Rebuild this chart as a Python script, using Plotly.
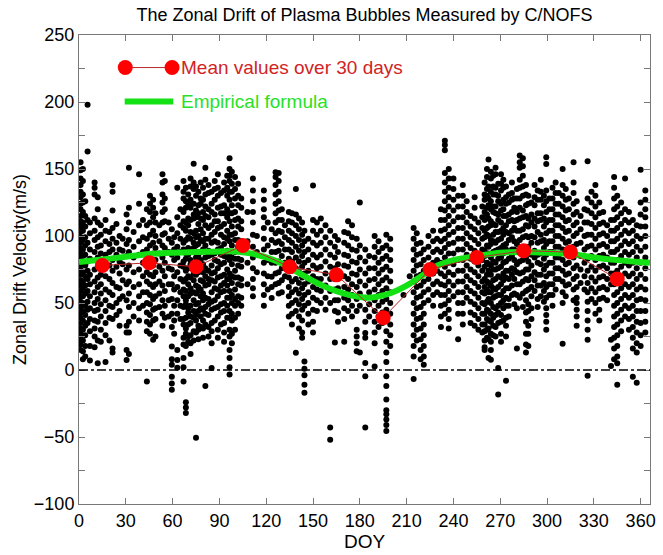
import plotly.graph_objects as go

# ---------------- data ----------------
title_text = "The Zonal Drift of Plasma Bubbles Measured by C/NOFS"

# 30-day mean values
mean_doy = [15, 45, 75, 105, 135, 165, 195, 225, 255, 285, 315, 345]
mean_vel = [78, 80, 77, 93, 77, 71, 39, 75, 84, 89, 88, 68]

# empirical formula curve
emp_doy = [0, 15, 30, 45, 60, 75, 90, 100, 110, 120, 130, 140, 150, 160, 170, 180, 185,
           190, 200, 210, 220, 230, 240, 255, 270, 285, 300, 315, 330, 345, 366]
emp_vel = [80.5, 82.5, 84.5, 86.5, 87.5, 88, 88.5, 88.5, 87, 84, 79.5, 73, 66.5, 61, 57, 54.5, 54,
           54.5, 57.5, 63, 70.5, 78, 82, 85, 87.5, 88, 87.5, 86.5, 84, 82, 80]

# individual bubble drift measurements, grouped by day (DOY, velocities)
streak_doy = [
    1, 2.5, 4, 5.5, 7, 10, 12, 14, 17, 19.5, 21.5, 24, 26, 28, 30.5, 32, 35, 38.5, 41, 43.5,
    45.5, 47.5, 49, 51.5, 53.5, 55, 57.5, 59.5, 61, 63, 65,
    67, 68.5, 70, 71.5, 73.5, 75, 76.5, 78, 79.5, 81, 83, 85, 87, 89, 91, 93, 95, 96.5, 98,
    100, 102, 104,
    108, 111.5, 114, 118.5, 121, 123.5, 126, 128, 130, 132, 134.5, 136.5, 139, 141, 143, 144.5,
    147, 150, 152.5, 155, 158, 161, 164, 166, 170, 172.5, 175, 178, 180, 183.5, 186, 189.5,
    192, 194.5, 197, 199.5, 208, 212,
    214.5, 216.5, 219, 221, 224, 227, 229.5, 232, 234.5, 237, 240, 243, 246, 248.5, 251, 253.6,
    256, 258.5,
    260, 261.5, 262.5, 264, 265.5, 267, 268.7, 270.5, 272, 273.7, 275.5, 277.5, 279, 280.7,
    282.5, 284.5, 286.5, 288, 290, 292, 294, 296, 298, 299.5,
    301.5, 303.5, 305.5, 307.5, 310, 312, 314, 317, 319, 321.5, 324, 326, 328.5, 331, 333.5,
    336, 338.5, 341, 343, 345, 347.5, 350, 352.5, 355, 357.5, 360, 363,
]
streak_vel = [
    [155, 149, 143, 138, 133, 129, 124, 120, 115, 111, 107, 103, 99, 95, 91, 87, 83, 79, 75, 71, 67, 63, 59, 55, 51, 47, 43, 39, 35, 31, 27, 23, 19, 15],
    [150, 141, 131, 125, 118, 110, 104, 97, 90, 85, 79, 73, 66, 61, 55, 50, 44, 37, 30, 22, 14, 8],
    [126, 115, 107, 99, 93, 86, 78, 70, 63, 57, 48, 41, 33, 26, 18, 10],
    [198, 163, 112, 95, 81, 74, 68, 59, 51, 45, 35],
    [110, 102, 90, 83, 71, 64, 55, 46, 38, 29, 18, 7],
    [140, 136, 131, 113, 104, 97, 88, 75, 66, 58, 50, 44, 37, 31, 25, 17],
    [129, 120, 110, 99, 92, 84, 76, 69, 62, 53, 45, 36, 22, 5],
    [108, 101, 93, 87, 80, 71, 64, 57, 49, 40, 30, 21],
    [112, 104, 96, 86, 79, 70, 60, 52, 44, 35, 26, 6],
    [103, 94, 88, 78, 68, 58, 48, 39, 22],
    [138, 133, 119, 106, 98, 90, 82, 74, 65, 56, 47, 38, 16, 13],
    [109, 95, 86, 77, 62, 50, 41],
    [100, 90, 81, 72, 61, 53, 44, 33],
    [98, 89, 79, 67, 55],
    [116, 105, 94, 85, 75, 64, 52, 33, 28, 15, 7.5],
    [151, 121, 110, 97, 88, 78, 66, 57, 47, 36, 28, 12],
    [103, 92, 84, 73, 62, 50, 40],
    [146, 124, 108, 96, 86, 75, 64, 55, 46, 37],
    [112, 99, 88, 80, 70, 58, 48],
    [120, 108, 98, 90, 80, 73, 66, 58, 50, 43, 36, 29, -8.5],
    [130, 124, 118, 110, 101, 93, 86, 79, 71, 64, 56, 49, 41, 34, 27],
    [127, 121, 114, 104, 95, 87, 78, 70, 62, 53, 45, 37, 22.5],
    [117, 110, 100, 91, 82, 73, 64, 55, 46, 38, 25],
    [108, 96, 87, 77, 66, 57, 47],
    [146, 140, 131, 125, 118, 110, 101, 93, 84, 74, 63, 52, 42, 33],
    [141, 128, 120, 111, 102, 91, 80, 70, 59, 48, 39],
    [110, 98, 88, 76, 64, 52, 40],
    [105, 95, 86, 75, 64, 53, 42, 32, 17.5, 8, 4, -5, -10, -14.7],
    [99, 90, 82, 70, 60, 48, 37, 27],
    [136, 114, 102, 92, 84, 73, 62, 52, 42, 15, 7.5, 1.7],
    [120, 108, 98, 88, 78, 68, 58, 48, 38],
    [141, 133, 128, 118, 111, 106, 95, 90, 81, 77, 66, 60, 55, 47, 38, 34, 24, 19, 9, 2, -8.5],
    [136, 126, 121, 110, 104, 97, 87, 83, 74, 68, 59, 52, 49, 39, 31, 27, 18, -24, -28, -32],
    [131, 124, 113, 108, 99, 91, 86, 76, 70, 64, 55, 46, 43, 34, 25, 21],
    [143, 137, 127, 121, 112, 103, 98, 89, 82, 79, 69, 61, 57, 48, 40, 35, 26, 20, 12],
    [154, 140, 135, 124, 116, 113, 102, 95, 91, 80, 72, 67, 58, 52, 44, 39, 29, 22],
    [137, 130, 119, 114, 104, 99, 93, 84, 76, 71, 63, 57, 49, 41, 37, 28, -50.5],
    [133, 123, 117, 109, 100, 94, 85, 80, 73, 62, 59, 50, 44, 33, 30, 23],
    [140, 128, 124, 113, 105, 97, 88, 82, 75, 67, 60, 55, 46, 40, 32],
    [136, 127, 118, 112, 102, 96, 90, 79, 73, 66, 57, 52, 45, 37, 31, 24],
    [151, 142, 131, 122, 115, 108, 98, 93, 84, 76, 70, 63, 54, 47, 42, 34, -12],
    [138, 132, 120, 114, 106, 98, 89, 85, 74, 68, 64, 53, 49, 41, 32, 25],
    [133, 124, 118, 108, 101, 95, 86, 78, 72, 67, 58, 51, 45, 35, 29, 20, 1.5],
    [141, 135, 127, 116, 111, 103, 96, 87, 82, 73, 66, 61, 52, 46, 37],
    [146, 136, 130, 121, 111, 106, 95, 90, 81, 76, 69, 60, 55, 47, 40, 30, 24],
    [132, 122, 117, 107, 101, 91, 86, 79, 70, 63, 58, 49, 43, 34],
    [140, 134, 123, 117, 109, 99, 94, 85, 80, 71, 65, 59, 50, 44, 35, 28, 21],
    [145, 136, 130, 120, 114, 104, 98, 89, 84, 75, 68, 63, 54, 48, 39],
    [158, 150, 145, 141, 133, 127, 117, 111, 101, 96, 87, 82, 72, 68, 59, 54, 44, 39, 30, 25, 15, 9, 2, -3.3],
    [148, 139, 133, 123, 117, 107, 101, 93, 84, 79, 70, 65, 56, 50, 42, 37, 27, 20],
    [144, 135, 128, 118, 112, 102, 97, 88, 83, 74, 69, 60, 53, 48, 39, 30],
    [139, 130, 123, 113, 107, 97, 92, 83, 78, 69, 64, 55, 50, 42],
    [128, 121, 111, 105, 96, 91, 82, 77, 68, 63, 54, 48],
    [118, 96, 80, 64],
    [143, 134, 126, 118, 110, 101, 92, 84, 76, 68, 61, 55],
    [100, 88, 73],
    [134, 127, 120, 114, 106, 98, 90, 80, 72, 64, 56, 48],
    [110, 93, 82, 70, 60],
    [105, 97, 88, 80, 69.5, 62, 53.7],
    [147.5, 144, 138, 131, 124, 117, 110, 102, 95, 88, 80, 72, 64],
    [147, 141, 133, 126, 119, 112, 104, 96, 89, 81, 73, 65, 57],
    [120, 112, 103, 94, 85, 76, 67, 58],
    [108, 99, 90, 80, 70],
    [118, 111, 104, 97, 90, 83, 76, 69, 62, 55, 48, 40],
    [117, 110, 102, 95, 88, 81, 74, 66, 58, 50, 42, 34],
    [135, 116, 108, 100, 92, 84, 76, 68, 60, 52, 44, 12.8],
    [113, 105, 97, 89, 81, 73, 65, 57, 49, 40, 31],
    [110, 101, 93, 85, 77, 69, 61, 53, 45, 37, 28, 24],
    [104, 96, 88, 80, 72, 64, 56, 48, 6.4, 1, -4, -11, -17],
    [98, 90, 82, 74, 66, 58, 50, 42, 34],
    [137.7, 112, 104, 95, 86, 78, 70, 62, 54, 45, 36, 28],
    [110, 101, 93, 84, 76, 68, 60, 52, 44],
    [113, 104, 95, 86, 77, 68, 59, 50],
    [108, 99, 90, 81, 72, 63, 54, 45],
    [104, 95, 86, 77, 68, 59, 50, -43, -52],
    [100, 92, 84, 76, 68, 60, 52, 44, 20.5],
    [97, 88, 79, 70, 61, 52, 43, 36],
    [103, 95, 86, 78, 70, 62, 54, 46, 38, 21],
    [111, 102, 93, 85, 77, 68, 60, 52, 44],
    [108, 99, 90, 81, 72, 64, 56, 48, 40],
    [98, 89, 80, 71, 62, 53, 44, 30, 25, 20, 14],
    [125, 93, 84, 75, 66, 57, 48, 13],
    [90, 81, 72, 63, 54, 45, 36, 27.7, 24, 5.2, -4.7, -43],
    [85, 76, 67, 58, 49, 40],
    [100, 92, 84, 76, 68, 60, 52, 44, 36, 28, 20, 2.7],
    [96, 88, 80, 72, 64, 56, 48, 40, 32],
    [91, 83, 75, 67, 59, 51, 43, 35],
    [101, 93, 85, 77, 69, 61, 53, 45, 37, 29, 21, 13, 6, -4.7, -12, -22, -30, -33, -37, -41, -45.6],
    [98, 90, 82, 74, 66, 58, 50, 42, 34, 26, 18],
    [56],
    [70],
    [106, 98, 90, 82, 74, 66, 58, 50, 42, 34, 26, 18, 10, -6.7],
    [102, 94, 86, 78, 70, 62, 54, 46, 38, 30, 22],
    [95, 87, 79, 71, 63, 55, 47, 39, 31, 23, 15, 8],
    [90, 82, 74, 66, 58, 50, 42, 34, 26, 18, 10, 4],
    [100, 92, 84, 76, 68, 60, 52],
    [104, 96, 88, 80, 72, 64, 56, 48],
    [98, 90, 82, 74, 66, 58],
    [120, 112, 104, 96, 88, 80, 72, 64, 56, 48, 40, 32],
    [171, 168, 164, 147, 140, 133, 126, 119, 112, 105, 98, 91, 84, 77, 70, 63, 56, 49, 42],
    [150, 143, 136, 129, 122, 115, 108, 101, 94, 87, 80, 73, 66, 59, 52, 45, 38, 31],
    [143, 135, 127, 119, 111, 103, 95, 87, 79, 71, 63, 55],
    [130, 122, 114, 106, 98, 90, 82, 74, 66, 58, 50, 42, 23],
    [138, 130, 122, 114, 106, 98, 90, 82, 74, 66, 58, 50, 42, 34],
    [126, 118, 110, 102, 94, 86, 78, 70, 62, 54],
    [115, 107, 99, 91, 83, 75, 67, 59, 51, 43, 35],
    [129, 121, 113, 105, 97, 89, 81, 73, 65, 57, 49, 41, 33],
    [110, 102, 94, 86, 78, 70, 62, 54, 46, 38, 30],
    [122, 114, 106, 98, 90, 82, 74, 66, 58, 50, 42, 34, 28],
    [140, 131, 127, 118, 112, 104, 99, 89, 85, 77, 68, 62, 57, 49, 42, 34, 29, 22, 17, 15],
    [150, 144, 135, 130, 121, 116, 106, 101, 93, 86, 80, 71, 66, 60, 51, 45, 38, 30, 24],
    [157, 137, 128, 123, 113, 107, 100, 92, 87, 79, 74, 65, 58, 53, 44, 37, 31, 23, 9],
    [148, 143, 133, 126, 120, 111, 108, 97, 94, 84, 78, 71, 63, 58, 50, 42, 36, 27, 21, 15, 7.6],
    [145, 137, 131, 122, 118, 109, 101, 96, 88, 81, 75, 67, 61, 54, 47, 39, 33, 26],
    [151, 146, 136, 131, 122, 117, 108, 103, 95, 89, 80, 75, 68, 60, 55, 46, 41, 32, 25],
    [139, 130, 126, 116, 112, 103, 97, 90, 83, 76, 70, 62, 56, 48, 43, 35, 1.5, -18.3],
    [146, 139, 134, 124, 119, 110, 104, 98, 91, 84, 77, 69, 64, 56, 50, 41, 36, 27, 21],
    [142, 136, 127, 120, 115, 106, 101, 93, 87, 80, 72, 67, 59, 52, 46, 37],
    [137, 129, 124, 115, 108, 103, 94, 90, 81, 74, 69, 61, 54, 48, 39, 33, 25, -8],
    [131, 125, 116, 111, 102, 97, 88, 83, 74, 68, 61, 53, 48, 40],
    [140, 132, 127, 118, 112, 104, 99, 90, 85, 76, 71, 63, 56],
    [128, 121, 111, 106, 96, 90, 82, 75, 68, 57, 49],
    [135, 128, 118, 112, 104, 94, 88, 79, 73, 64, 56, 46, 16],
    [160, 155, 151, 142, 136, 128, 121, 113, 104, 97, 89, 81, 72, 64, 54],
    [158, 152, 145, 137, 130, 119, 114, 105, 99, 88, 82, 73, 66, 57, 47],
    [138, 131, 123, 115, 108, 100, 91, 84, 75, 68, 59, 52, 43, 36, 27, 19, 13],
    [130, 124, 113, 107, 99, 92, 81, 75, 67, 60, 49, 44, 33, 27, 18],
    [125, 116, 110, 100, 95, 86, 78, 70, 62, 55, 46, 38],
    [138, 129, 123, 113, 107, 99, 89, 84, 73, 67, 59],
    [134, 127, 117, 111, 103, 95, 86, 80, 71, 63, 53, 47],
    [142, 133, 127, 117, 112, 101, 96, 87, 79, 71, 63, 55],
    [130, 123, 113, 107, 97, 91, 83, 75, 65, 59, 51],
    [158.7, 153.8, 134, 126, 118, 110, 102, 94, 86, 78, 70, 62, 54, 46, 41, 36, 30],
    [128, 120, 112, 104, 96, 88, 80, 72, 64, 56],
    [136, 128, 120, 112, 104, 96, 88, 80, 72, 64, 56, 48],
    [140, 132, 124, 116, 108, 100, 92, 84, 76, 68, 60],
    [132, 124, 116, 108, 100, 92, 84, 76, 68],
    [150, 138, 130, 122, 114, 106, 98, 90, 82, 74, 66, 58, 50, 19.5],
    [135, 127, 119, 111, 103, 95, 87, 79, 71, 63, 55],
    [128, 120, 112, 104, 96, 88, 80, 72, 64],
    [155, 140, 132, 124, 116, 108, 100, 92, 84, 76, 68, 60, 52],
    [126, 118, 110, 102, 94, 86, 78, 70, 62, 54, 50, 45, 40, 33],
    [115, 105, 95, 85, 75, 65],
    [120, 110, 100, 90, 80, 70, 60],
    [155.7, 128, 119, 110, 101, 92, 83, 74, 65, 58, 51, 44, 37, 30, 22.5, -4.3],
    [133, 125, 117, 109, 101, 93, 85, 77, 69, 61, 53],
    [138, 130, 122, 114, 106, 98, 90, 82, 74, 66, 58, 50, 42],
    [125, 117, 109, 101, 93, 85, 77, 69, 61, 53, 45, 37],
    [118, 110, 102, 94, 86, 78, 70, 62, 54],
    [108, 100, 92, 84, 76, 68, 60, 52],
    [112, 104, 96, 88, 80, 72, 64, 22.5, 3],
    [144, 136, 128, 120, 112, 104, 96, 88, 80, 72, 64, 56, 48, 40, 32, 24, 16, 8],
    [130, 122, 114, 106, 98, 90, 82, 74, 66, 58, 50, 42, 34, 26, 18, 10, 5, -11],
    [125, 117, 109, 101, 93, 85, 77, 69, 61, 53, 45, 37, 29],
    [143, 120, 112, 104, 96, 88, 80, 72, 64, 56, 48, 40],
    [118, 110, 102, 94, 86, 78, 70, 62, 54, 46, 38, 30],
    [112, 104, 96, 88, 80, 72, 64, 56, 48, 40, 32, 24, 16, -5],
    [108, 100, 92, 84, 76, 68, 60, 52, 44, 36, 28, 20, 13, -9.5],
    [149.5, 125, 116, 107, 98, 89, 80, 71, 62, 53, 44, 35, 26, 18],
    [134, 127, 120, 114, 107, 100, 92, 84, 76, 68, 60, 52, 44, 36, 28],
]

x_ticks = [0, 30, 60, 90, 120, 150, 180, 210, 240, 270, 300, 330, 360]
y_ticks = [-100, -50, 0, 50, 100, 150, 200, 250]

legend_mean_text = "Mean values over 30 days"
legend_emp_text = "Empirical formula"

# ---------------- build ----------------
pts_x, pts_y = [], []
for d, vals in zip(streak_doy, streak_vel):
    for v in vals:
        pts_x.append(d)
        pts_y.append(v)

FONT = "Liberation Sans, Arial, sans-serif"
GREEN = "rgb(20,225,20)"
RED = "rgb(255,0,0)"
DARKRED = "rgb(185,40,40)"

fig = go.Figure()
fig.add_trace(go.Scatter(x=pts_x, y=pts_y, mode="markers",
                         marker=dict(color="black", size=6, line=dict(width=0)),
                         hoverinfo="skip", showlegend=False))
fig.add_trace(go.Scatter(x=emp_doy, y=emp_vel, mode="lines",
                         line=dict(color=GREEN, width=6, shape="spline", smoothing=1.0),
                         showlegend=False))
fig.add_trace(go.Scatter(x=mean_doy, y=mean_vel, mode="lines+markers",
                         line=dict(color=DARKRED, width=1),
                         marker=dict(color=RED, size=15, line=dict(width=0)),
                         showlegend=False))

# zero reference line
fig.add_shape(type="line", xref="paper", yref="y", x0=0, x1=1, y0=0, y1=0,
              line=dict(color="black", width=1.3, dash="dashdot"))

# custom legend
ly1 = 0.9306
ly2 = 0.8584
fig.add_shape(type="line", xref="paper", yref="paper", x0=0.081, x1=0.163, y0=ly1, y1=ly1,
              line=dict(color=DARKRED, width=1))
for xc in (0.081, 0.163):
    fig.add_shape(type="circle", xref="paper", yref="paper", xsizemode="pixel", ysizemode="pixel",
                  xanchor=xc, yanchor=ly1, x0=-7.5, x1=7.5, y0=-7.5, y1=7.5,
                  fillcolor=RED, line=dict(width=0))
fig.add_shape(type="line", xref="paper", yref="paper", x0=0.080, x1=0.165, y0=ly2, y1=ly2,
              line=dict(color=GREEN, width=6))
fig.add_annotation(x=0.175, y=ly1, xref="paper", yref="paper", text=legend_mean_text,
                   showarrow=False, xanchor="left", yanchor="middle",
                   font=dict(family=FONT, size=19, color="rgb(210,35,35)"))
fig.add_annotation(x=0.175, y=ly2, xref="paper", yref="paper", text=legend_emp_text,
                   showarrow=False, xanchor="left", yanchor="middle",
                   font=dict(family=FONT, size=19, color="rgb(40,225,40)"))

axis_common = dict(showline=True, linecolor="rgb(120,120,120)", linewidth=1, mirror="allticks",
                   ticks="inside", ticklen=6, tickcolor="rgb(120,120,120)", showgrid=False,
                   zeroline=False, tickfont=dict(family=FONT, size=18, color="black"))

fig.update_layout(
    width=663, height=555,
    margin=dict(l=79, r=7, t=35, b=49),
    paper_bgcolor="white", plot_bgcolor="white",
    title=dict(text=title_text, x=0.5, xref="paper", y=1 - 15 / 555, yref="container",
               xanchor="center", yanchor="middle",
               font=dict(family=FONT, size=18, color="black")),
    xaxis=dict(range=[0, 366], tickvals=x_ticks,
               title=dict(text="DOY", font=dict(family=FONT, size=19, color="black"), standoff=4),
               **axis_common),
    yaxis=dict(range=[-100, 250], tickvals=y_ticks,
               minor=dict(dtick=25, tick0=0, ticks="inside", ticklen=6, tickcolor="rgb(120,120,120)"),
               title=dict(text="Zonal Drift Velocity(m/s)", font=dict(family=FONT, size=18, color="black"),
                          standoff=2),
               **axis_common),
    showlegend=False,
)

fig.write_html("out.html")
